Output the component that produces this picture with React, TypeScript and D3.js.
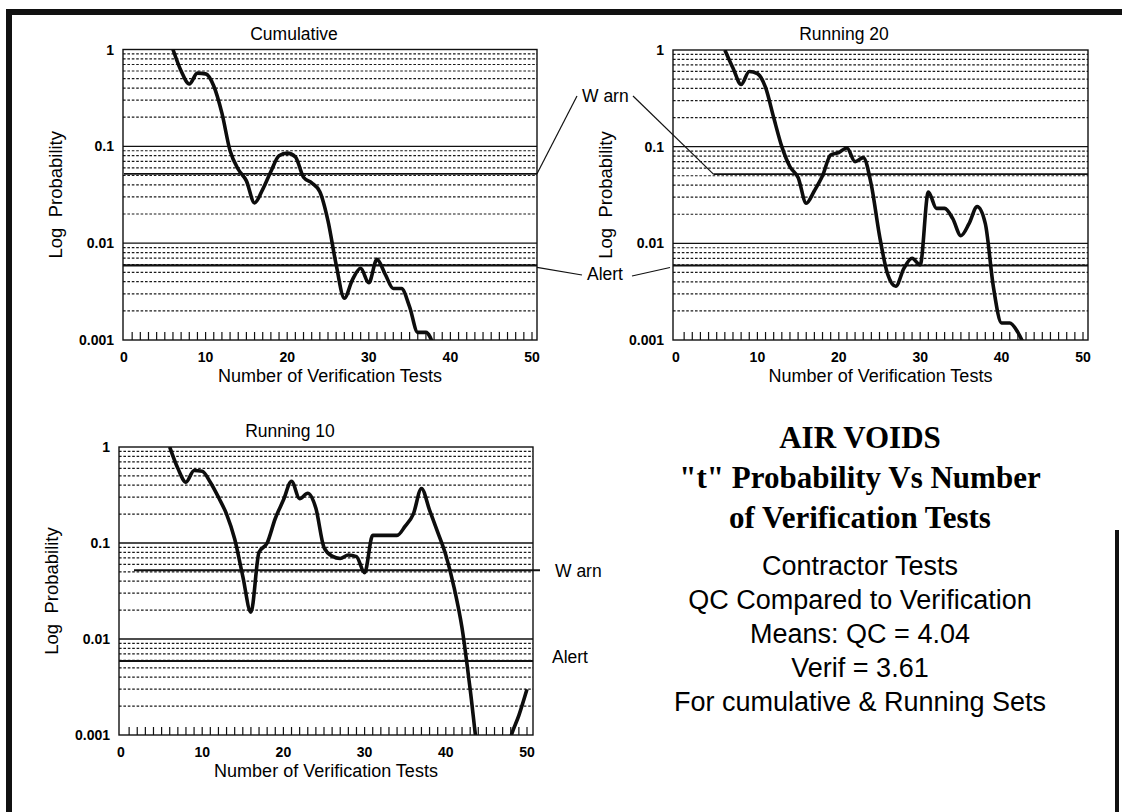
import React, { useEffect, useRef } from 'react';
import * as d3 from 'd3';

// test numbers and "t" probabilities
const cumulativeTests = d3.range(6, 39);
const cumulativeProb = [
  1.0, 0.6, 0.44, 0.57, 0.56, 0.42, 0.22, 0.09, 0.058, 0.044, 0.026, 0.036, 0.055, 0.08, 0.085, 0.078,
  0.048, 0.042, 0.034, 0.017, 0.006, 0.0027, 0.0042, 0.0055, 0.0039, 0.0068, 0.0048, 0.0034, 0.0034,
  0.0022, 0.0012, 0.0012, 0.00085,
];

const running20Tests = d3.range(6, 44);
const running20Prob = [
  1.0, 0.65, 0.44, 0.6, 0.57, 0.41, 0.2, 0.1, 0.062, 0.048, 0.026, 0.035, 0.05, 0.082, 0.087, 0.097,
  0.07, 0.077, 0.04, 0.012, 0.0048, 0.0036, 0.0055, 0.007, 0.006, 0.034, 0.023, 0.023, 0.018, 0.012,
  0.016, 0.024, 0.016, 0.0035, 0.0015, 0.0015, 0.0012, 0.0008,
];

const running10Tests = d3.range(6, 51);
const running10Prob = [
  1.0, 0.6, 0.43, 0.57, 0.56, 0.43, 0.3, 0.2, 0.11, 0.045, 0.019, 0.08, 0.1, 0.18, 0.28, 0.44, 0.29,
  0.33, 0.23, 0.09, 0.073, 0.069, 0.075, 0.072, 0.049, 0.12, 0.12, 0.12, 0.12, 0.15, 0.2, 0.37, 0.22,
  0.13, 0.075, 0.035, 0.013, 0.003, 0.0006, 0.0003, 0.0003, 0.0004, 0.00095, 0.0016, 0.003,
];

const xTicks = [0, 10, 20, 30, 40, 50];
const yTicks = [1, 0.1, 0.01, 0.001];
const yTickLabels = ['1', '0.1', '0.01', '0.001'];
const warnLevel = 0.052;
const alertLevel = 0.0059;

const titleLines = ['AIR VOIDS', '"t" Probability Vs Number', 'of Verification Tests'];
const noteLines = [
  'Contractor Tests',
  'QC Compared to Verification',
  'Means: QC = 4.04',
  'Verif = 3.61',
  'For cumulative & Running Sets',
];

const SANS = "'Liberation Sans', Arial, Helvetica, sans-serif";
const SERIF = "'Liberation Serif', 'Times New Roman', serif";

const panels = [
  { id: 'cum', title: 'Cumulative', tests: cumulativeTests, probs: cumulativeProb,
    left: 123, right: 537, top: 49.5, bottom: 340, x0: 124, x50: 532, warnFrom: 0, warnOver: 0 },
  { id: 'r20', title: 'Running 20', tests: running20Tests, probs: running20Prob,
    left: 673, right: 1088, top: 50, bottom: 340, x0: 676, x50: 1083, warnFrom: 4.6, warnOver: 0 },
  { id: 'r10', title: 'Running 10', tests: running10Tests, probs: running10Prob,
    left: 119, right: 533, top: 447, bottom: 735, x0: 121, x50: 527, warnFrom: 1.6, warnOver: 7 },
];

function drawPanel(svg, p) {
  const x = d3.scaleLinear().domain([0, 50]).range([p.x0, p.x50]);
  const y = d3.scaleLog().domain([0.001, 1]).range([p.bottom, p.top]);
  const g = svg.append('g');

  g.append('clipPath')
    .attr('id', `clip-${p.id}`)
    .append('rect')
    .attr('x', p.left)
    .attr('y', p.top)
    .attr('width', p.right - p.left)
    .attr('height', p.bottom - p.top);

  // dotted minor log grid
  const minor = y.ticks().filter(v => !yTicks.some(t => Math.abs(v - t) < t * 1e-6));
  g.append('g')
    .selectAll('line')
    .data(minor)
    .join('line')
    .attr('x1', p.left)
    .attr('x2', p.right)
    .attr('y1', d => y(d))
    .attr('y2', d => y(d))
    .attr('stroke', '#1a1a1a')
    .attr('stroke-width', 1.2)
    .attr('stroke-dasharray', '2.6,1.8');

  // decade lines
  g.append('g')
    .selectAll('line')
    .data([0.1, 0.01])
    .join('line')
    .attr('x1', p.left)
    .attr('x2', p.right)
    .attr('y1', d => y(d))
    .attr('y2', d => y(d))
    .attr('stroke', '#111')
    .attr('stroke-width', 1.3);

  // warn / alert levels
  g.append('line')
    .attr('x1', x(p.warnFrom))
    .attr('x2', p.right + p.warnOver)
    .attr('y1', y(warnLevel))
    .attr('y2', y(warnLevel))
    .attr('stroke', '#111')
    .attr('stroke-width', 1.8);
  g.append('line')
    .attr('x1', p.left)
    .attr('x2', p.right)
    .attr('y1', y(alertLevel))
    .attr('y2', y(alertLevel))
    .attr('stroke', '#111')
    .attr('stroke-width', 2.2);

  // small ticks standing on the x axis
  g.append('g')
    .selectAll('line')
    .data(d3.range(1, 51))
    .join('line')
    .attr('x1', d => x(d))
    .attr('x2', d => x(d))
    .attr('y1', p.bottom)
    .attr('y2', p.bottom - 8)
    .attr('stroke', '#111')
    .attr('stroke-width', 1.2);

  g.append('rect')
    .attr('x', p.left)
    .attr('y', p.top)
    .attr('width', p.right - p.left)
    .attr('height', p.bottom - p.top)
    .attr('fill', 'none')
    .attr('stroke', '#111')
    .attr('stroke-width', 1.4);

  const line = d3
    .line()
    .x(d => x(d[0]))
    .y(d => y(d[1]))
    .curve(d3.curveMonotoneX);
  g.append('path')
    .datum(p.tests.map((t, i) => [t, p.probs[i]]))
    .attr('clip-path', `url(#clip-${p.id})`)
    .attr('d', line)
    .attr('fill', 'none')
    .attr('stroke', '#0d0d0d')
    .attr('stroke-width', 3.6)
    .attr('stroke-linejoin', 'round');

  // tick labels
  g.append('g')
    .selectAll('text')
    .data(yTicks)
    .join('text')
    .attr('x', p.left - 9)
    .attr('y', d => y(d) + 5)
    .attr('text-anchor', 'end')
    .attr('font-family', SANS)
    .attr('font-weight', 'bold')
    .attr('font-size', 14)
    .text((d, i) => yTickLabels[i]);
  g.append('g')
    .selectAll('text')
    .data(xTicks)
    .join('text')
    .attr('x', d => x(d))
    .attr('y', p.bottom + 22)
    .attr('text-anchor', 'middle')
    .attr('font-family', SANS)
    .attr('font-weight', 'bold')
    .attr('font-size', 14)
    .text(d => d);

  g.append('text')
    .attr('x', (p.left + p.right) / 2)
    .attr('y', p.bottom + 42)
    .attr('text-anchor', 'middle')
    .attr('font-family', SANS)
    .attr('font-size', 18)
    .text('Number of Verification Tests');
  g.append('text')
    .attr('x', p.left + 171)
    .attr('y', p.top - 10)
    .attr('text-anchor', 'middle')
    .attr('font-family', SANS)
    .attr('font-size', 17.5)
    .text(p.title);
  g.append('text')
    .attr('transform', `translate(${p.left - 61},${(p.top + p.bottom) / 2}) rotate(-90)`)
    .attr('text-anchor', 'middle')
    .attr('font-family', SANS)
    .attr('font-size', 18.5)
    .style('white-space', 'pre')
    .text('Log  Probability');

  return { x, y };
}

export default function App() {
  const ref = useRef(null);

  useEffect(() => {
    const svg = d3.select(ref.current);
    svg.selectAll('*').remove();

    svg.append('rect').attr('width', 1122).attr('height', 812).attr('fill', '#fff');

    const [s1, s2, s3] = panels.map(p => drawPanel(svg, p));
    const [p1, p2] = panels;

    // page border bits from the scan
    svg.append('rect').attr('x', 6).attr('y', 9).attr('width', 1116).attr('height', 6).attr('fill', '#111');
    svg.append('rect').attr('x', 6).attr('y', 9).attr('width', 6).attr('height', 803).attr('fill', '#111');
    svg.append('rect').attr('x', 1115).attr('y', 530).attr('width', 4).attr('height', 282).attr('fill', '#111');

    const label = (txt, lx, ly) =>
      svg
        .append('text')
        .attr('x', lx)
        .attr('y', ly)
        .attr('font-family', SANS)
        .attr('font-size', 17.5)
        .text(txt);

    // shared Warn / Alert callouts between the top panels
    label('W arn', 582, 102);
    label('Alert', 587, 280);
    const leaders = [
      [p1.right, s1.y(warnLevel), 577, 96],
      [633, 96, s2.x(p2.warnFrom), s2.y(warnLevel)],
      [p1.right, s1.y(alertLevel) + 2, 582, 275],
      [632, 276, p2.left - 3, s2.y(alertLevel) + 2],
    ];
    svg
      .append('g')
      .selectAll('line')
      .data(leaders)
      .join('line')
      .attr('x1', d => d[0])
      .attr('y1', d => d[1])
      .attr('x2', d => d[2])
      .attr('y2', d => d[3])
      .attr('stroke', '#111')
      .attr('stroke-width', 1.2);

    label('W arn', 555, s3.y(warnLevel) + 7);
    label('Alert', 552, s3.y(alertLevel) + 2);

    svg
      .append('g')
      .selectAll('text')
      .data(titleLines)
      .join('text')
      .attr('x', 860)
      .attr('y', (d, i) => 448 + i * 40)
      .attr('text-anchor', 'middle')
      .attr('font-family', SERIF)
      .attr('font-weight', 'bold')
      .attr('font-size', 31)
      .text(d => d);

    svg
      .append('g')
      .selectAll('text')
      .data(noteLines)
      .join('text')
      .attr('x', 860)
      .attr('y', (d, i) => 575 + i * 34)
      .attr('text-anchor', 'middle')
      .attr('font-family', SANS)
      .attr('font-size', 27)
      .text(d => d);
  }, []);

  return (
    <div style={{ position: 'absolute', left: 0, top: 0 }}>
      <svg ref={ref} width={1122} height={812} style={{ display: 'block' }} />
    </div>
  );
}
